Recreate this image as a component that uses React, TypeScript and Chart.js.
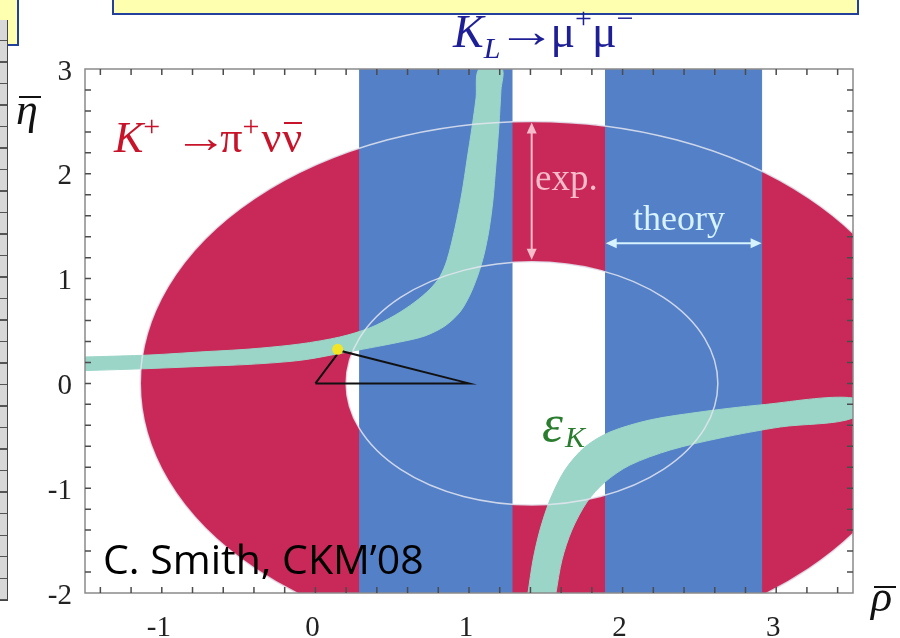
import React, { useEffect, useRef } from 'react';
import { Chart, registerables } from 'chart.js';

Chart.register(...registerables);

// ---------- axes ----------
const rhoLimits = [-1.5, 3.5];
const etaLimits = [-2, 3];
const rhoTickLabels = [-1, 0, 1, 2, 3];
const etaTickLabels = [-2, -1, 0, 1, 2, 3];
const minorTickStep = 0.2;

// ---------- K+ -> pi+ nu nubar ring (ellipse centre, outer / inner semi-axes) ----------
const kPlusCentre = [1.41, 0];
const kPlusOuterRadii = [2.55, 2.5];
const kPlusInnerRadii = [1.21, 1.16];

// ---------- KL -> mu+ mu- bands in rho ----------
const kLBandA = [0.29, 1.28];
const kLBandB = [1.89, 2.905];

// ---------- eps_K hyperbola band edges [rho, eta] ----------
const epsKLeftUpper = [
  [-1.5, 0.252], [-1.077, 0.271], [-0.751, 0.3], [-0.426, 0.328], [-0.1, 0.376],
  [0.16, 0.443], [0.355, 0.53], [0.518, 0.65], [0.648, 0.777], [0.746, 0.9],
  [0.811, 1.02], [0.857, 1.177], [0.909, 1.483], [0.954, 1.817], [0.987, 2.132],
  [1.02, 2.447], [1.046, 2.723], [1.065, 3.0],
];
const epsKLeftLower = [
  [-1.5, 0.122], [-1.077, 0.142], [-0.751, 0.162], [-0.426, 0.182], [-0.1, 0.22],
  [0.16, 0.286], [0.55, 0.395], [0.713, 0.453], [0.843, 0.548], [0.941, 0.681],
  [1.006, 0.844], [1.058, 1.034], [1.097, 1.225], [1.13, 1.463], [1.156, 1.75],
  [1.175, 2.084], [1.195, 2.466], [1.208, 2.8], [1.214, 3.0],
];
const epsKRightUpper = [
  [1.384, -2.0], [1.417, -1.685], [1.462, -1.399], [1.527, -1.113], [1.625, -0.826],
  [1.755, -0.607], [1.918, -0.464], [2.178, -0.349], [2.504, -0.273], [2.895, -0.206],
  [3.5, -0.139],
];
const epsKRightLower = [
  [1.566, -2.0], [1.605, -1.685], [1.67, -1.399], [1.768, -1.132], [1.885, -0.941],
  [2.048, -0.779], [2.309, -0.636], [2.635, -0.521], [3.026, -0.416], [3.5, -0.33],
];

// ---------- unitarity triangle ----------
const triangleRho = [0, 1, 0.16, 0];
const triangleEta = [0, 0, 0.312, 0];
const apexFit = [0.145, 0.325];

// ---------- annotation arrows ----------
const expArrowRho = 1.408;
const expArrowEta = [2.49, 1.18];
const theoryArrowEta = 1.337;
const theoryArrowRho = [1.89, 2.905];

const RED = '#c92958';
const BLUE = '#5480c8';
const TEAL = '#9bd5c8';
const PINK = '#f6bccb';
const CYAN = '#d6f3ff';

const toPts = (arr: number[][]) => arr.map(([x, y]) => ({ x, y }));
const closed = (upper: number[][], lower: number[][]) =>
  toPts(upper).concat(toPts(lower.slice().reverse()));
const band = (r: number[]) =>
  toPts([[r[0], etaLimits[0]], [r[1], etaLimits[0]], [r[1], etaLimits[1]], [r[0], etaLimits[1]], [r[0], etaLimits[0]]]);

// minor tick positions every 0.2 inside the frame
const minorTicks = (lo: number, hi: number) => {
  const out: { value: number }[] = [];
  const n0 = Math.ceil(lo / minorTickStep - 1e-9);
  const n1 = Math.floor(hi / minorTickStep + 1e-9);
  for (let n = n0; n <= n1; n++) out.push({ value: Math.round(n * minorTickStep * 1000) / 1000 });
  return out;
};

function arrowHead(ctx: CanvasRenderingContext2D, x: number, y: number, ang: number, len: number, half: number) {
  ctx.beginPath();
  ctx.moveTo(x, y);
  ctx.lineTo(x - len * Math.cos(ang) + half * Math.sin(ang), y - len * Math.sin(ang) - half * Math.cos(ang));
  ctx.lineTo(x - len * Math.cos(ang) - half * Math.sin(ang), y - len * Math.sin(ang) + half * Math.cos(ang));
  ctx.closePath();
  ctx.fill();
}

const shapesPlugin = {
  id: 'ckmShapes',
  beforeDatasetsDraw(chart: any) {
    const { ctx, chartArea: a, scales: { x, y } } = chart;
    ctx.save();
    ctx.beginPath();
    ctx.rect(a.left, a.top, a.right - a.left, a.bottom - a.top);
    ctx.clip();
    const cx = x.getPixelForValue(kPlusCentre[0]);
    const cy = y.getPixelForValue(kPlusCentre[1]);
    const rad = (r: number[]) => [
      Math.abs(x.getPixelForValue(kPlusCentre[0] + r[0]) - cx),
      Math.abs(y.getPixelForValue(kPlusCentre[1] + r[1]) - cy),
    ];
    const [orx, ory] = rad(kPlusOuterRadii);
    const [irx, iry] = rad(kPlusInnerRadii);
    ctx.fillStyle = RED;
    ctx.beginPath();
    ctx.ellipse(cx, cy, orx, ory, 0, 0, Math.PI * 2);
    ctx.fill();
    ctx.fillStyle = '#ffffff';
    ctx.beginPath();
    ctx.ellipse(cx, cy, irx, iry, 0, 0, Math.PI * 2);
    ctx.fill();
    ctx.restore();
  },
  afterDatasetDraw(chart: any, args: any) {
    if (chart.data.datasets[args.index].label !== 'epsK right') return;
    const { ctx, chartArea: a, scales: { x, y } } = chart;
    ctx.save();
    ctx.beginPath();
    ctx.rect(a.left, a.top, a.right - a.left, a.bottom - a.top);
    ctx.clip();
    const cx = x.getPixelForValue(kPlusCentre[0]);
    const cy = y.getPixelForValue(kPlusCentre[1]);
    ctx.strokeStyle = 'rgba(228,230,240,0.85)';
    ctx.lineWidth = 1.5;
    for (const r of [kPlusOuterRadii, kPlusInnerRadii]) {
      const rx = Math.abs(x.getPixelForValue(kPlusCentre[0] + r[0]) - cx);
      const ry = Math.abs(y.getPixelForValue(kPlusCentre[1] + r[1]) - cy);
      ctx.beginPath();
      ctx.ellipse(cx, cy, rx, ry, 0, 0, Math.PI * 2);
      ctx.stroke();
    }
    ctx.restore();
  },
  afterDatasetsDraw(chart: any) {
    const { ctx, chartArea: a, scales: { x, y } } = chart;
    ctx.save();
    // exp. arrow
    const ex = x.getPixelForValue(expArrowRho);
    const ey0 = y.getPixelForValue(expArrowEta[0]);
    const ey1 = y.getPixelForValue(expArrowEta[1]);
    ctx.strokeStyle = PINK;
    ctx.fillStyle = PINK;
    ctx.lineWidth = 2;
    ctx.beginPath();
    ctx.moveTo(ex, ey0 + 6);
    ctx.lineTo(ex, ey1 - 6);
    ctx.stroke();
    arrowHead(ctx, ex, ey0, -Math.PI / 2, 11, 5);
    arrowHead(ctx, ex, ey1, Math.PI / 2, 11, 5);
    // theory arrow
    const ty = y.getPixelForValue(theoryArrowEta);
    const tx0 = x.getPixelForValue(theoryArrowRho[0]);
    const tx1 = x.getPixelForValue(theoryArrowRho[1]);
    ctx.strokeStyle = CYAN;
    ctx.fillStyle = CYAN;
    ctx.beginPath();
    ctx.moveTo(tx0 + 6, ty);
    ctx.lineTo(tx1 - 6, ty);
    ctx.stroke();
    arrowHead(ctx, tx0, ty, Math.PI, 11, 5);
    arrowHead(ctx, tx1, ty, 0, 11, 5);

    // frame
    ctx.strokeStyle = '#8a8a8a';
    ctx.lineWidth = 1.5;
    ctx.strokeRect(a.left, a.top, a.right - a.left, a.bottom - a.top);
    // inward ticks on all four sides
    ctx.strokeStyle = '#4c4c4c';
    ctx.lineWidth = 1.5;
    ctx.beginPath();
    for (const t of x.ticks) {
      const px = x.getPixelForValue(t.value);
      if (px <= a.left + 1 || px >= a.right - 1) continue;
      ctx.moveTo(px, a.bottom);
      ctx.lineTo(px, a.bottom - 6);
      ctx.moveTo(px, a.top);
      ctx.lineTo(px, a.top + 6);
    }
    for (const t of y.ticks) {
      const py = y.getPixelForValue(t.value);
      if (py <= a.top + 1 || py >= a.bottom - 1) continue;
      ctx.moveTo(a.left, py);
      ctx.lineTo(a.left + 6, py);
      ctx.moveTo(a.right, py);
      ctx.lineTo(a.right - 6, py);
    }
    ctx.stroke();
    ctx.restore();
  },
};

const intLabel = (list: number[]) => (value: any) => {
  const v = Number(value);
  const r = Math.round(v);
  return Math.abs(v - r) < 1e-6 && list.includes(r) ? String(r) : '';
};

export default function App() {
  const ref = useRef<HTMLCanvasElement>(null);

  useEffect(() => {
    const datasets: any[] = [
      {
        label: 'KL band A', data: band(kLBandA), fill: 'shape', backgroundColor: BLUE,
        borderColor: BLUE, borderWidth: 1, pointRadius: 0, tension: 0, order: 10,
      },
      {
        label: 'KL band B', data: band(kLBandB), fill: 'shape', backgroundColor: BLUE,
        borderColor: BLUE, borderWidth: 1, pointRadius: 0, tension: 0, order: 9,
      },
      {
        label: 'epsK left', data: closed(epsKLeftUpper, epsKLeftLower), fill: 'shape',
        backgroundColor: TEAL, borderColor: TEAL, borderWidth: 1, pointRadius: 0, tension: 0.3, order: 8,
      },
      {
        label: 'epsK right', data: closed(epsKRightUpper, epsKRightLower), fill: 'shape',
        backgroundColor: TEAL, borderColor: TEAL, borderWidth: 1, pointRadius: 0, tension: 0.3, order: 7,
      },
      {
        label: 'triangle', data: triangleRho.map((r, i) => ({ x: r, y: triangleEta[i] })), fill: false,
        borderColor: '#111111', borderWidth: 2, pointRadius: 0, tension: 0, order: 6,
      },
      {
        label: 'apex', data: [{ x: apexFit[0], y: apexFit[1] }], showLine: false,
        pointRadius: 5.5, pointBackgroundColor: '#f3e526', pointBorderWidth: 0, order: 5,
      },
    ];

    const chart = new Chart(ref.current as HTMLCanvasElement, {
      type: 'line',
      data: { datasets },
      options: {
        animation: false,
        responsive: false,
        maintainAspectRatio: false,
        events: [],
        layout: { padding: { left: 0, top: 69, right: 47, bottom: 0 } },
        plugins: { legend: { display: false }, tooltip: { enabled: false } },
        scales: {
          x: {
            type: 'linear', position: 'bottom', min: rhoLimits[0], max: rhoLimits[1],
            grid: { display: false, drawTicks: false }, border: { display: false },
            afterBuildTicks: (s: any) => { s.ticks = minorTicks(rhoLimits[0], rhoLimits[1]); },
            ticks: {
              autoSkip: false, maxRotation: 0, padding: 18, labelOffset: -3,
              color: '#222', font: { family: 'Liberation Serif', size: 29 }, callback: intLabel(rhoTickLabels),
            },
            afterFit: (s: any) => { s.height = 45; },
          },
          y: {
            type: 'linear', position: 'left', min: etaLimits[0], max: etaLimits[1],
            grid: { display: false, drawTicks: false }, border: { display: false },
            afterBuildTicks: (s: any) => { s.ticks = minorTicks(etaLimits[0], etaLimits[1]); },
            ticks: {
              autoSkip: false, padding: 13, labelOffset: 3,
              color: '#222', font: { family: 'Liberation Serif', size: 29 }, callback: intLabel(etaTickLabels),
            },
            afterFit: (s: any) => { s.width = 85; },
          },
        },
      } as any,
      plugins: [shapesPlugin as any],
    });
    return () => chart.destroy();
  }, []);

  const serif = '"Liberation Serif", "DejaVu Serif", serif';
  const abs = (o: any) => ({ position: 'absolute' as const, lineHeight: 1, whiteSpace: 'nowrap' as const, ...o });
  const longArrow = (ml: number, mr: number, sx: number) => ({
    display: 'inline-block', transform: `scaleX(${sx})`, transformOrigin: 'left center', marginLeft: ml, marginRight: mr,
  });

  return (
    <div style={{ position: 'absolute', left: 0, top: 0, width: 900, height: 638, background: '#fff', overflow: 'hidden' }}>
      {/* slide decorations */}
      <div style={{ position: 'absolute', left: -2, top: -2, width: 17, height: 44, background: '#ffffb0', border: '2px solid #23409c' }} />
      <div style={{ position: 'absolute', left: 112, top: -4, width: 743, height: 15, background: '#ffffb0', border: '2px solid #23409c' }} />
      <div style={{
        position: 'absolute', left: -2, top: 20, width: 9, height: 580, borderRight: '1.5px solid #444', borderBottom: '1.5px solid #444',
        background: 'repeating-linear-gradient(to bottom, #d8d8d8 0px, #d8d8d8 20px, #555 20px, #555 21.5px)',
      }} />

      <canvas ref={ref} width={900} height={638} style={{ position: 'absolute', left: 0, top: 0 }} />

      {/* title */}
      <div style={abs({ left: 453, top: 9, fontFamily: serif, fontSize: 46, color: '#1e1e96' })}>
        <i>K</i><span style={{ fontSize: 30, position: 'relative', top: 11 }}><i>L</i></span>
        <span style={longArrow(-3, 7, 1.3)}>→</span>μ<span style={{ fontSize: 30, position: 'relative', top: -19 }}>+</span>μ<span style={{ fontSize: 30, position: 'relative', top: -19 }}>−</span>
      </div>

      {/* axis titles */}
      <div style={abs({ left: 16, top: 88, fontFamily: serif, fontSize: 44, fontStyle: 'italic', color: '#111' })}>η</div>
      <div style={{ position: 'absolute', left: 19, top: 96, width: 22, height: 2, background: '#111' }} />
      <div style={abs({ left: 871, top: 575, fontFamily: serif, fontSize: 44, fontStyle: 'italic', color: '#111' })}>ρ</div>
      <div style={{ position: 'absolute', left: 874, top: 586, width: 22, height: 2, background: '#111' }} />

      {/* K+ -> pi+ nu nubar */}
      <div style={abs({ left: 114, top: 116, fontFamily: serif, fontSize: 44, color: '#c8142a' })}>
        <i>K</i><span style={{ fontSize: 30, position: 'relative', top: -16 }}>+</span>
        <span style={longArrow(14, 2, 1.22)}>→</span>π<span style={{ fontSize: 30, position: 'relative', top: -16, marginRight: 2 }}>+</span>ν<span style={{ position: 'relative', marginLeft: 1 }}>ν<span style={{ position: 'absolute', left: 2, right: 0, top: 9, height: 2, background: '#c8142a' }} /></span>
      </div>

      {/* exp. / theory */}
      <div style={abs({ left: 535, top: 159, fontFamily: serif, fontSize: 37, color: PINK })}>exp.</div>
      <div style={abs({ left: 633, top: 200, fontFamily: serif, fontSize: 36, color: CYAN })}>theory</div>

      {/* eps_K */}
      <div style={abs({ left: 542, top: 397, fontFamily: serif, fontSize: 53, fontStyle: 'italic', color: '#2a7d2e' })}>
        ε<span style={{ fontSize: 30, position: 'relative', top: 6, marginLeft: 2 }}>K</span>
      </div>

      {/* credit */}
      <div style={abs({ left: 103, top: 538, fontFamily: '"Open Sans", "Noto Sans", sans-serif', fontSize: 41, color: '#000' })}>
        C. Smith, CKM’08
      </div>
    </div>
  );
}
